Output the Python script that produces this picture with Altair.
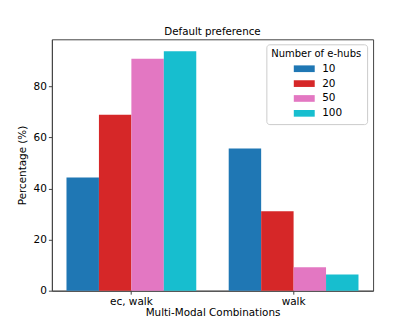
import altair as alt
import pandas as pd

categories = ["ec, walk", "walk"]
hubs = ["10", "20", "50", "100"]
values_ec_walk = [44.3, 68.9, 90.8, 93.7]
values_walk = [55.7, 31.1, 9.2, 6.3]
colors = ["#1f77b4", "#d62728", "#e377c2", "#17becf"]

rows = []
for cat, vals in zip(categories, [values_ec_walk, values_walk]):
    for h, v in zip(hubs, vals):
        rows.append({"combo": cat, "hubs": h, "pct": v})
df = pd.DataFrame(rows)

font = "DejaVu Sans"

chart = alt.Chart(df).mark_bar().encode(
    x=alt.X("combo:N", sort=categories,
            scale=alt.Scale(paddingInner=0.2, paddingOuter=0.09),
            axis=alt.Axis(title="Multi-Modal Combinations", labelAngle=0,
                          tickSize=3.5, labelPadding=2, titlePadding=1)),
    xOffset=alt.XOffset("hubs:N", sort=hubs, scale=alt.Scale(paddingInner=0, paddingOuter=0)),
    y=alt.Y("pct:Q", scale=alt.Scale(domain=[0, 98.4], nice=False),
            axis=alt.Axis(title="Percentage (%)", values=[0, 20, 40, 60, 80],
                          tickSize=3.5, labelPadding=2, grid=False, titlePadding=6)),
    color=alt.Color("hubs:N", sort=hubs,
                    scale=alt.Scale(domain=hubs, range=colors),
                    legend=alt.Legend(title="Number of e-hubs", orient="none",
                                      legendX=215, legendY=5,
                                      symbolType="M-2,-0.64H2V0.64H-2Z",
                                      symbolSize=110, symbolStrokeWidth=0,
                                      symbolOpacity=1, symbolOffset=9.5,
                                      labelOffset=12.5, rowPadding=3.9,
                                      titleAnchor="middle", titlePadding=4,
                                      padding=5, fillColor="white",
                                      strokeColor="#cccccc", cornerRadius=3,
                                      labelFontSize=10.5, titleFontSize=10,
                                      labelFont=font, titleFont=font,
                                      titleFontWeight="normal", labelColor="black",
                                      titleColor="black")),
).properties(
    width=322, height=252,
    title=alt.TitleParams("Default preference", fontSize=10.3, font=font,
                          fontWeight="normal", color="black", offset=2),
    autosize=alt.AutoSizeParams(type="none"),
    padding={"left": 44, "top": 31, "right": 34, "bottom": 28},
).configure_view(
    stroke="#444444", strokeWidth=1
).configure_axis(
    labelFont=font, titleFont=font, labelFontSize=10.5, titleFontSize=10.4,
    titleFontWeight="normal", labelColor="black", titleColor="black",
    domainColor="#444444", tickColor="#444444"
)

chart.save("out.html", embed_options={"renderer": "svg", "actions": False})
